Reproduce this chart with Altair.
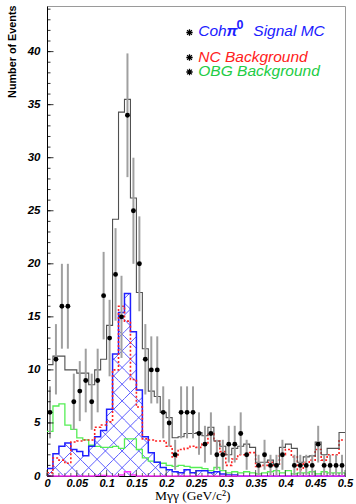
import altair as alt
import pandas as pd
import numpy as np

# ---------------- data ----------------
bin_low = [0.00, 0.01, 0.02, 0.03, 0.04, 0.05, 0.06, 0.07, 0.08, 0.09,
           0.10, 0.11, 0.12, 0.13, 0.14, 0.15, 0.16, 0.17, 0.18, 0.19,
           0.20, 0.21, 0.22, 0.23, 0.24, 0.25, 0.26, 0.27, 0.28, 0.29,
           0.30, 0.31, 0.32, 0.33, 0.34, 0.35, 0.36, 0.37, 0.38, 0.39,
           0.40, 0.41, 0.42, 0.43, 0.44, 0.45, 0.46, 0.47, 0.48, 0.49]
bin_width = 0.01

data_counts = [6, 11, 16, 16, 7, 8, 9, 7, 9, 17,
               13, 19, 15, 34, 25, 20, 11, 10, 10, 6,
               5, 2, 6, 6, 6, 4, 3, 4, 2, 2,
               3, 3, 4, 2, 0, 1, 2, 1, 1, 2,
               0, 1, 1, 1, 1, 3, 1, 1, 1, 1]

mc_total = [10.5, 11.3, 11.3, 10.0, 10.0, 9.7, 9.7, 8.6, 10.0, 11.0,
            14.2, 24.2, 34.3, 35.5, 26.2, 17.3, 12.0, 8.0, 7.5, 6.0,
            5.5, 3.6, 3.7, 4.0, 4.0, 4.1, 3.8, 4.6, 3.3, 2.8,
            2.0, 2.6, 2.8, 3.0, 2.7, 1.3, 1.3, 1.5, 1.1, 2.7,
            3.0, 2.6, 1.3, 1.8, 1.9, 3.2, 2.0, 2.6, 2.6, 4.1]

signal_mc = [0.7, 2.1, 2.8, 3.1, 2.5, 2.3, 1.9, 2.8, 3.7, 4.3,
             6.3, 11.5, 15.4, 17.2, 13.6, 8.1, 3.7, 2.2, 1.3, 0.8,
             0.6, 0.4, 0.3, 0.6, 0.3, 0.5, 0.5, 0.3, 0.4, 0.2,
             0.1, 0.1, 0.0, 0.0, 0.0, 0.0, 0.0, 0.0, 0.0, 0.0,
             0.0, 0.0, 0.0, 0.0, 0.0, 0.0, 0.0, 0.0, 0.0, 0.0]

nc_bkg = [0.3, 1.7, 1.5, 1.2, 3.2, 3.3, 3.4, 3.4, 4.6, 4.8,
          5.1, 10.0, 16.0, 14.6, 9.1, 6.5, 3.5, 3.4, 3.3, 3.3,
          2.8, 1.8, 2.5, 2.6, 2.8, 2.7, 3.0, 4.0, 3.3, 2.3,
          1.0, 1.6, 2.0, 2.0, 2.2, 0.9, 1.0, 1.3, 1.0, 2.0,
          2.5, 1.8, 0.6, 1.3, 1.5, 2.5, 1.5, 2.0, 2.0, 3.4]

obg_bkg = [4.2, 6.6, 6.8, 4.8, 4.4, 3.6, 3.4, 2.9, 2.8, 2.7,
           2.7, 2.8, 2.6, 3.5, 3.5, 2.5, 1.7, 1.4, 1.3, 1.2,
           1.0, 0.9, 1.0, 0.9, 0.8, 0.8, 0.7, 0.5, 0.8, 0.5,
           0.3, 0.4, 0.3, 0.4, 0.3, 0.2, 0.3, 0.4, 0.5, 0.3,
           0.5, 0.2, 0.3, 0.3, 0.4, 0.2, 0.4, 0.3, 0.3, 0.3]

other_bkg = [0.0, 0.0, 0.0, 0.0, 0.0, 0.0, 0.0, 0.0, 0.05, 0.05,
             0.0, 0.0, 0.1, 0.4, 0.1, 0.0, 0.0, 0.0, 0.0, 0.0,
             0.0, 0.0, 0.0, 0.0, 0.0, 0.0, 0.0, 0.0, 0.0, 0.0,
             0.0, 0.0, 0.0, 0.0, 0.0, 0.0, 0.0, 0.0, 0.0, 0.0,
             0.0, 0.0, 0.0, 0.0, 0.0, 0.0, 0.0, 0.0, 0.0, 0.0]

x_tick_labels = [0, 0.05, 0.1, 0.15, 0.2, 0.25, 0.3, 0.35, 0.4, 0.45, 0.5]
y_tick_labels = [0, 5, 10, 15, 20, 25, 30, 35, 40]
y_minor_ticks = list(range(0, 45))
x_minor_ticks = bin_low + [0.5]

legend_labels = ["NC Background", "OBG Background"]

# ---------------- layout constants ----------------
W, H = 298, 470
X_MAX, Y_MAX = 0.5, 44.3
FONT = "Liberation Sans"

xs = alt.Scale(domain=[0, X_MAX], nice=False, zero=False)
ys = alt.Scale(domain=[0, Y_MAX], nice=False, zero=False)

x_axis = alt.Axis(values=x_tick_labels, format="~g", tickSize=0, grid=False,
                  domainColor="black", domainWidth=1,
                  labelFont=FONT, labelFontStyle="italic", labelFontWeight="bold",
                  labelFontSize=11, labelColor="black", labelPadding=1,
                  labelFlush=False, labelOverlap=False, title=None)
y_axis = alt.Axis(values=y_tick_labels, tickSize=0, grid=False,
                  domainColor="black", domainWidth=1,
                  labelFont=FONT, labelFontStyle="italic", labelFontWeight="bold",
                  labelFontSize=11.5, labelColor="black", labelPadding=7,
                  labelOverlap=False,
                  title="Number of Events", titleFont=FONT, titleFontWeight="bold",
                  titleFontSize=10.8, titleColor="black", titleAngle=270,
                  titleX=-34.5, titleY=-1, titleAlign="right", titleBaseline="middle")


def X(f="x"):
    return alt.X(f"{f}:Q", scale=xs, axis=x_axis)


def Y(f="y"):
    return alt.Y(f"{f}:Q", scale=ys, axis=y_axis)


def px_to_x(px):
    return px * X_MAX / W


def px_to_y(py):
    return (H - py) * Y_MAX / H


def step_df(vals):
    return pd.DataFrame({"x": bin_low + [X_MAX], "y": list(vals) + [vals[-1]]})


def step_line(vals, **kw):
    return alt.Chart(step_df(vals)).mark_line(interpolate="step-after", **kw).encode(x=X(), y=Y())


# ---------------- hatch of the signal histogram ----------------
k = (W / X_MAX) / (H / Y_MAX)   # data slope that looks like 45 degrees
spacing = 0.028
rows = []
sid = 0
for c in np.arange(-0.7, 0.7, spacing):
    for a, h in zip(bin_low, signal_mc):
        if h <= 0:
            continue
        b = a + bin_width
        xa, xb = max(a, c), min(b, c + h / k)
        if xb > xa:
            rows += [(sid, xa, k * (xa - c)), (sid, xb, k * (xb - c))]
            sid += 1
        xa, xb = max(a, c - h / k), min(b, c)
        if xb > xa:
            rows += [(sid, xa, k * (c - xa)), (sid, xb, k * (c - xb))]
            sid += 1
hatch_df = pd.DataFrame(rows, columns=["seg", "x", "y"])
hatch = alt.Chart(hatch_df).mark_line(color="#4a4aff", strokeWidth=0.9, clip=True).encode(
    x=X(), y=Y(), detail="seg:N")

# ---------------- data points ----------------
pts = pd.DataFrame({"x": [b + bin_width / 2 for b in bin_low], "n": data_counts})
pts = pts[pts["n"] > 0].copy()
pts["lo"] = np.clip(pts["n"] - np.sqrt(pts["n"]), 0, None)
pts["hi"] = pts["n"] + np.sqrt(pts["n"])
err = alt.Chart(pts).mark_rule(color="#a0a0a0", strokeWidth=2).encode(
    x=X(), y=Y("lo"), y2="hi:Q")
dots = alt.Chart(pts).mark_circle(color="black", size=24, opacity=1).encode(x=X(), y=Y("n"))

# ---------------- inward ticks ----------------
ytk = pd.DataFrame({"y": y_minor_ticks})
ytk_major = pd.DataFrame({"y": y_tick_labels})
y_minor = alt.Chart(ytk).mark_rule(color="black", strokeWidth=0.8).encode(
    y=Y(), x=alt.value(0), x2=alt.value(3.5))
y_major = alt.Chart(ytk_major).mark_rule(color="black", strokeWidth=0.8).encode(
    y=Y(), x=alt.value(0), x2=alt.value(6.5))
xtk = pd.DataFrame({"x": x_minor_ticks})
xtk_major = pd.DataFrame({"x": x_tick_labels})
x_minor = alt.Chart(xtk).mark_rule(color="#444444", strokeWidth=0.8).encode(
    x=X(), y=alt.value(H), y2=alt.value(H - 3))
x_major = alt.Chart(xtk_major).mark_rule(color="#444444", strokeWidth=0.8).encode(
    x=X(), y=alt.value(H), y2=alt.value(H - 6))

# ---------------- legend (placed through the shared scales) ----------------
star_path = "M-1,0L1,0M0,-1L0,1M-0.75,-0.75L0.75,0.75M-0.75,0.75L0.75,-0.75"
star_df = pd.DataFrame({"x": [px_to_x(142.5)] * 3,
                        "y": [px_to_y(26.5), px_to_y(51.5), px_to_y(66.0)]})
stars = alt.Chart(star_df).mark_point(
    shape=star_path, filled=False, stroke="black", strokeWidth=1.3, size=40, opacity=1
).encode(x=X(), y=Y())

blue_t, red_t, green_t = "#2020ff", "#ff2020", "#22cc44"


def leg_text(rows_, size=15.5, weight="normal", style="italic"):
    df = pd.DataFrame(rows_, columns=["label", "px", "py", "col"])
    df["x"] = df["px"].map(px_to_x)
    df["y"] = df["py"].map(px_to_y)
    return alt.Chart(df).mark_text(
        align="left", baseline="alphabetic", font=FONT, fontSize=size,
        fontStyle=style, fontWeight=weight
    ).encode(x=X(), y=Y(), text="label:N", color=alt.Color("col:N", scale=None))


legend_main = leg_text([
    ("Coh", 151.3, 29.7, blue_t),
    ("Signal MC", 206.3, 29.7, blue_t),
    (legend_labels[0], 151.3, 55.7, red_t),
    (legend_labels[1], 151.3, 70.0, green_t),
])
legend_pi = leg_text([("π", 179.5, 29.7, blue_t)], weight="bold")
legend_sup = leg_text([("0", 189.5, 23.0, blue_t)], size=12.5, weight="bold", style="normal")

x_title = alt.Chart(pd.DataFrame({"t": ["Mγγ  (GeV/c²)"]})).mark_text(
    align="left", baseline="alphabetic", font="Liberation Serif", fontSize=13.5,
    color="black"
).encode(text="t:N", x=alt.value(108), y=alt.value(494))

# ---------------- layers ----------------
layers = [
    hatch,
    step_line(obg_bkg, color="#55ee55", strokeWidth=1.3),
    step_line(signal_mc, color="#2020ff", strokeWidth=1.5),
    step_line(nc_bkg, color="#ff2020", strokeWidth=1.6, strokeDash=[2, 2]),
    step_line(mc_total, color="#505050", strokeWidth=1.1),
    err,
    dots,
    step_line(other_bkg, color="#ff30ff", strokeWidth=1.5),
    y_minor, y_major, x_minor, x_major,
    stars, legend_main, legend_pi, legend_sup,
    x_title,
]

chart = alt.layer(*layers).properties(
    width=W, height=H,
    padding={"left": 47, "top": 6, "right": 11, "bottom": 28},
    autosize=alt.AutoSizeParams(type="none"),
    background="white",
).configure_view(stroke="#9a9a9a", strokeWidth=1)

chart.save("out.html", embed_options={"renderer": "svg", "actions": False})
